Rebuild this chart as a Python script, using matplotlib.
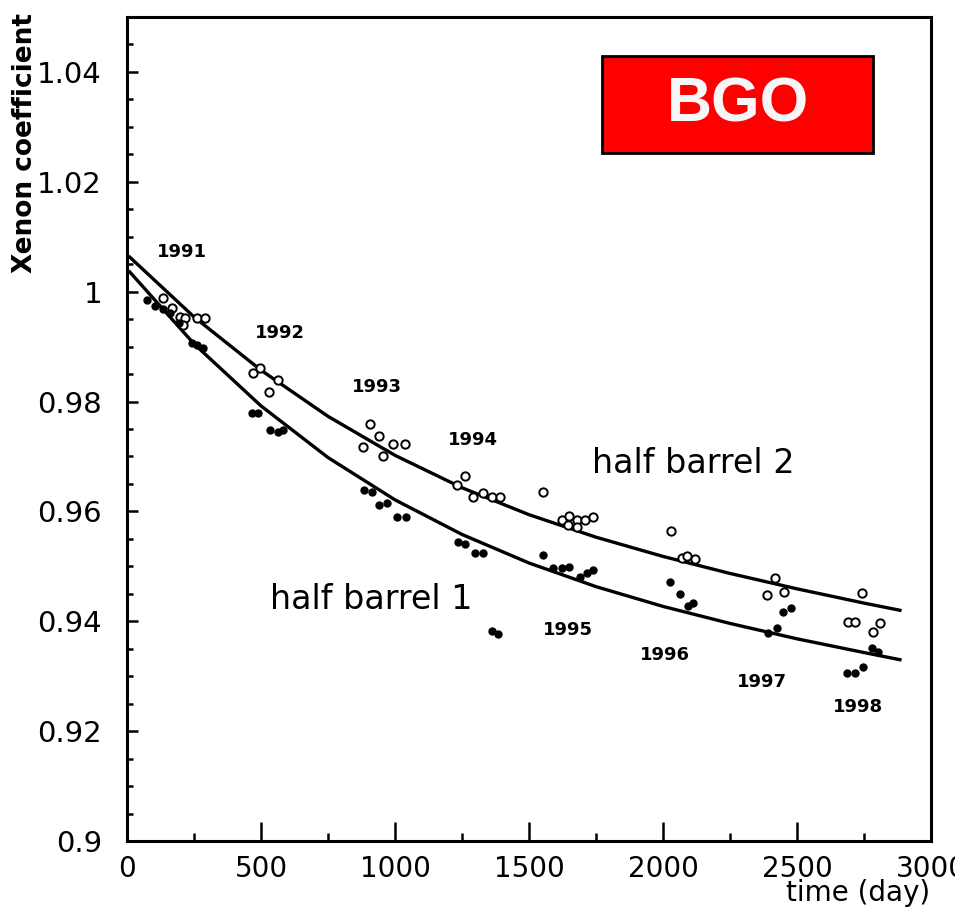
import matplotlib
matplotlib.use("Agg")
import matplotlib.pyplot as plt
from matplotlib.patches import Rectangle
from matplotlib.ticker import MultipleLocator

# fit curves (day, coefficient)
fit_days = [10, 250, 500, 750, 1000, 1250, 1500, 1750, 2000, 2250, 2500, 2750, 2884]
fit_hb2 = [1.0063, 0.9954, 0.9857, 0.9773, 0.9702, 0.9643, 0.9594, 0.9553,
           0.9518, 0.9487, 0.9459, 0.9433, 0.9420]
fit_hb1 = [1.0036, 0.9905, 0.9792, 0.9698, 0.9621, 0.9558, 0.9506, 0.9463,
           0.9427, 0.9396, 0.9368, 0.9343, 0.9330]

# half barrel 2 (open circles)
hb2_days = [134, 168, 198, 216, 209, 261, 291,
            470, 496, 563, 530,
            907, 940, 993, 1037, 881, 955,
            1261, 1231, 1291, 1328, 1362, 1392,
            1552, 1623, 1649, 1679, 1646, 1679, 1709, 1739,
            2030, 2071, 2090, 2119,
            2418, 2388, 2451,
            2743, 2690, 2716, 2784, 2810]
hb2_vals = [0.9989, 0.9970, 0.9954, 0.9952, 0.9939, 0.9952, 0.9952,
            0.9852, 0.9861, 0.9839, 0.9817,
            0.9759, 0.9737, 0.9723, 0.9723, 0.9717, 0.9701,
            0.9665, 0.9648, 0.9626, 0.9634, 0.9626, 0.9626,
            0.9635, 0.9584, 0.9592, 0.9584, 0.9575, 0.9572, 0.9584, 0.9590,
            0.9564, 0.9515, 0.9519, 0.9513,
            0.9479, 0.9448, 0.9453,
            0.9452, 0.9399, 0.9399, 0.9381, 0.9397]

# half barrel 1 (filled dots)
hb1_days = [75, 104, 134, 160, 194, 243, 261, 284,
            466, 489, 534, 563, 582,
            884, 914, 940, 970, 1007, 1041,
            1235, 1261, 1298, 1328, 1362, 1384,
            1552, 1590, 1623, 1649, 1690, 1716, 1739,
            2026, 2063, 2093, 2112,
            2448, 2478, 2392, 2425,
            2780, 2802, 2687, 2716, 2746]
hb1_vals = [0.9985, 0.9974, 0.9969, 0.9961, 0.9943, 0.9907, 0.9903, 0.9898,
            0.9779, 0.9779, 0.9748, 0.9745, 0.9748,
            0.9639, 0.9635, 0.9612, 0.9615, 0.9590, 0.9590,
            0.9544, 0.9541, 0.9524, 0.9524, 0.9382, 0.9377,
            0.9521, 0.9497, 0.9497, 0.9499, 0.9481, 0.9488, 0.9493,
            0.9472, 0.9450, 0.9428, 0.9433,
            0.9417, 0.9424, 0.9379, 0.9388,
            0.9351, 0.9344, 0.9306, 0.9306, 0.9317]

years = ["1991", "1992", "1993", "1994", "1995", "1996", "1997", "1998"]
year_x = [205, 571, 933, 1291, 1646, 2007, 2369, 2728]
year_y = [1.0072, 0.9925, 0.9827, 0.9730, 0.9384, 0.9339, 0.9289, 0.9244]

x_ticks = [0, 500, 1000, 1500, 2000, 2500, 3000]
y_ticks = [0.9, 0.92, 0.94, 0.96, 0.98, 1.0, 1.02, 1.04]
y_tick_labels = ["0.9", "0.92", "0.94", "0.96", "0.98", "1", "1.02", "1.04"]

fig = plt.figure(figsize=(9.55, 9.14), dpi=100)
ax = fig.add_axes([0.1330, 0.0799, 0.8419, 0.9015])

ax.plot(fit_days, fit_hb2, color="black", lw=2.4, solid_joinstyle="round")
ax.plot(fit_days, fit_hb1, color="black", lw=2.4, solid_joinstyle="round")
ax.plot(hb2_days, hb2_vals, "o", ms=6, mfc="white", mec="black", mew=1.4)
ax.plot(hb1_days, hb1_vals, "o", ms=5, mfc="black", mec="black")

for y, xx, yy in zip(years, year_x, year_y):
    ax.text(xx, yy, y, ha="center", va="center", fontsize=13, fontweight="bold")

ax.text(2112, 0.9688, "half barrel 2", ha="center", va="center", fontsize=24)
ax.text(910, 0.9439, "half barrel 1", ha="center", va="center", fontsize=24)

ax.set_xlim(0, 3000)
ax.set_ylim(0.9, 1.05)
ax.set_xticks(x_ticks)
ax.set_xticklabels([str(t) for t in x_ticks])
ax.set_yticks(y_ticks)
ax.set_yticklabels(y_tick_labels)
ax.xaxis.set_minor_locator(MultipleLocator(250))
ax.yaxis.set_minor_locator(MultipleLocator(0.005))
ax.tick_params(axis="both", which="both", direction="in", top=False, right=False,
               width=1.8)
ax.tick_params(axis="x", which="major", length=14, pad=10, labelsize=20)
ax.tick_params(axis="x", which="minor", length=6)
ax.tick_params(axis="y", which="major", length=8, pad=18, labelsize=21)
ax.tick_params(axis="y", which="minor", length=4)
for s in ax.spines.values():
    s.set_linewidth(2.2)

fig.text(0.974, 0.023, "time (day)", ha="right", va="center", fontsize=20)
fig.text(0.026, 0.843, "Xenon coefficient", rotation=90, ha="center", va="center",
         fontsize=19, fontweight="bold")

# BGO label box
fig.patches.append(Rectangle((0.6304, 0.8326), 0.2838, 0.1061, transform=fig.transFigure,
                             facecolor="#ff0000", edgecolor="black", lw=2))
fig.text(0.7728, 0.8851, "BGO", ha="center", va="center", fontsize=45,
         fontweight="bold", color="#f7f7f7", family=["Liberation Sans", "DejaVu Sans"])

fig.savefig("out.png", dpi=100)
